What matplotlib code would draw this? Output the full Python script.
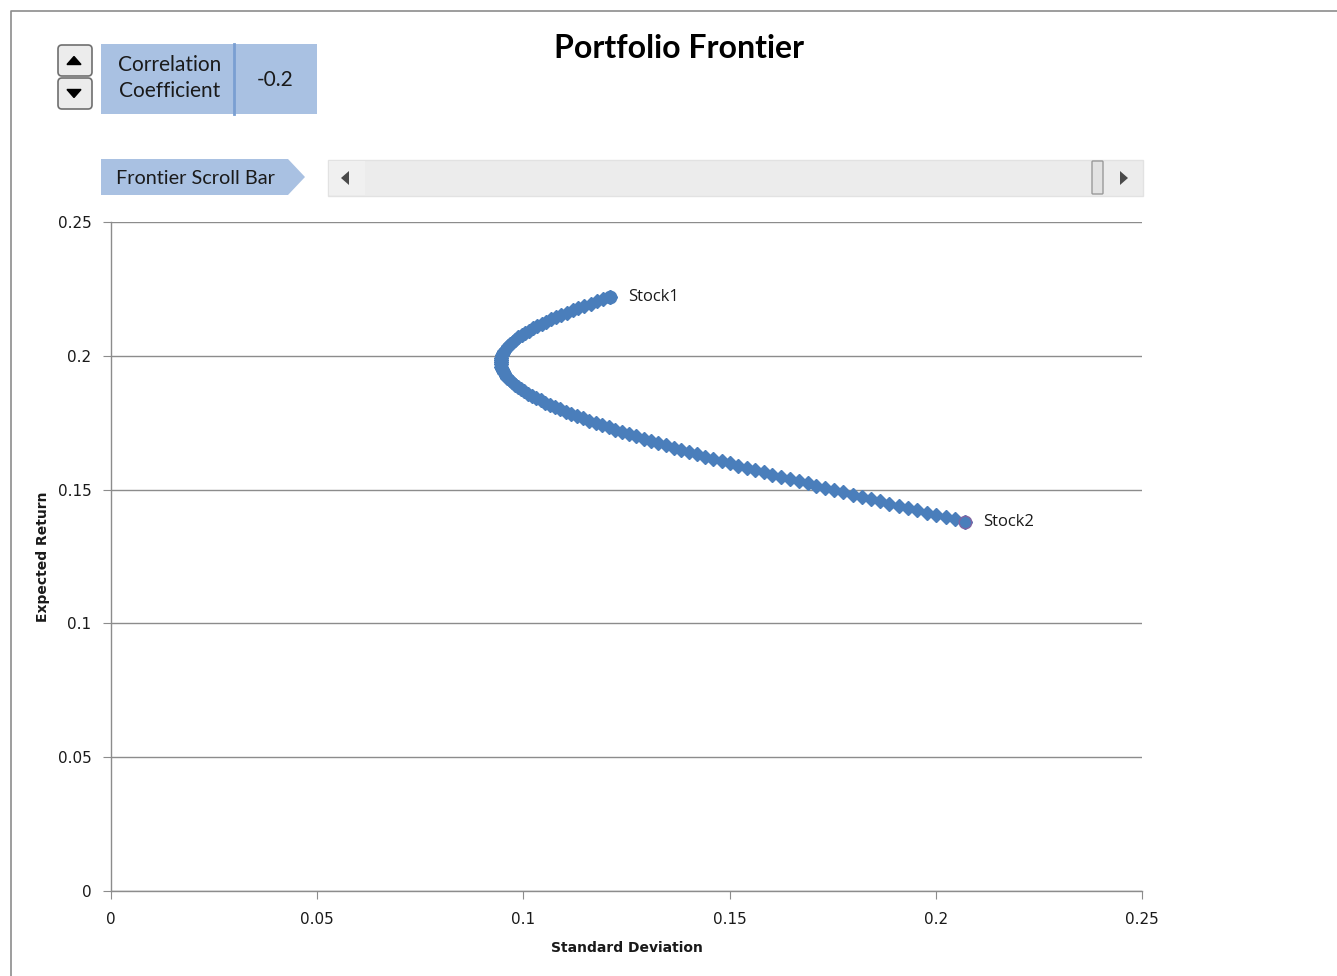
import numpy as np
import matplotlib
matplotlib.use("Agg")
import matplotlib.pyplot as plt
from matplotlib.patches import Rectangle, Polygon, FancyBboxPatch

# frontier points (Stock2 end -> Stock1 end)
std_dev = [0.20700, 0.20469, 0.20239, 0.20010, 0.19781, 0.19553, 0.19326, 0.19100, 0.18874, 0.18650,
           0.18426, 0.18204, 0.17982, 0.17761, 0.17542, 0.17324, 0.17106, 0.16890, 0.16676, 0.16462,
           0.16250, 0.16039, 0.15830, 0.15622, 0.15416, 0.15212, 0.15009, 0.14808, 0.14609, 0.14411,
           0.14216, 0.14023, 0.13832, 0.13643, 0.13457, 0.13273, 0.13092, 0.12913, 0.12738, 0.12565,
           0.12395, 0.12228, 0.12065, 0.11905, 0.11749, 0.11596, 0.11447, 0.11302, 0.11162, 0.11026,
           0.10894, 0.10767, 0.10645, 0.10527, 0.10415, 0.10308, 0.10207, 0.10111, 0.10022, 0.09938,
           0.09860, 0.09789, 0.09724, 0.09665, 0.09614, 0.09569, 0.09530, 0.09499, 0.09475, 0.09458,
           0.09448, 0.09445, 0.09450, 0.09461, 0.09480, 0.09505, 0.09538, 0.09578, 0.09624, 0.09677,
           0.09737, 0.09804, 0.09876, 0.09955, 0.10040, 0.10132, 0.10229, 0.10331, 0.10439, 0.10552,
           0.10670, 0.10794, 0.10922, 0.11055, 0.11192, 0.11333, 0.11479, 0.11629, 0.11782, 0.11940,
           0.12100]
exp_return = [0.13800, 0.13884, 0.13968, 0.14052, 0.14136, 0.14220, 0.14304, 0.14388, 0.14472, 0.14556,
              0.14640, 0.14724, 0.14808, 0.14892, 0.14976, 0.15060, 0.15144, 0.15228, 0.15312, 0.15396,
              0.15480, 0.15564, 0.15648, 0.15732, 0.15816, 0.15900, 0.15984, 0.16068, 0.16152, 0.16236,
              0.16320, 0.16404, 0.16488, 0.16572, 0.16656, 0.16740, 0.16824, 0.16908, 0.16992, 0.17076,
              0.17160, 0.17244, 0.17328, 0.17412, 0.17496, 0.17580, 0.17664, 0.17748, 0.17832, 0.17916,
              0.18000, 0.18084, 0.18168, 0.18252, 0.18336, 0.18420, 0.18504, 0.18588, 0.18672, 0.18756,
              0.18840, 0.18924, 0.19008, 0.19092, 0.19176, 0.19260, 0.19344, 0.19428, 0.19512, 0.19596,
              0.19680, 0.19764, 0.19848, 0.19932, 0.20016, 0.20100, 0.20184, 0.20268, 0.20352, 0.20436,
              0.20520, 0.20604, 0.20688, 0.20772, 0.20856, 0.20940, 0.21024, 0.21108, 0.21192, 0.21276,
              0.21360, 0.21444, 0.21528, 0.21612, 0.21696, 0.21780, 0.21864, 0.21948, 0.22032, 0.22116,
              0.22200]

stock_names = ["Stock1", "Stock2"]
stock_sd = [0.121, 0.207]
stock_ret = [0.222, 0.138]

x_ticks = [0, 0.05, 0.1, 0.15, 0.2, 0.25]
x_tick_labels = ["0", "0.05", "0.1", "0.15", "0.2", "0.25"]
y_ticks = [0, 0.05, 0.1, 0.15, 0.2, 0.25]
y_tick_labels = ["0", "0.05", "0.1", "0.15", "0.2", "0.25"]

corr_value = "-0.2"

W, H = 1337, 976
fig = plt.figure(figsize=(W / 100, H / 100), dpi=100)

# overlay in pixel coords for the sheet controls
ui = fig.add_axes([0, 0, 1, 1])
ui.set_xlim(0, W)
ui.set_ylim(H, 0)
ui.axis("off")

ui.plot([11, 11, W], [H, 11, 11], color="#8c8c8c", lw=1.2)

# spinner
for y0, up in [(45, True), (78, False)]:
    ui.add_patch(FancyBboxPatch((58, y0), 34, 31, boxstyle="round,pad=0,rounding_size=4",
                                fc="#ececec", ec="#6f6f6f", lw=1.2))
    cy = y0 + 15.5
    if up:
        tri = [(67, cy + 4), (81, cy + 4), (74, cy - 4)]
    else:
        tri = [(67, cy - 4), (81, cy - 4), (74, cy + 4)]
    ui.add_patch(Polygon(tri, closed=True, fc="black", ec="black"))

ui.add_patch(Rectangle((101, 44), 216, 70, fc="#a9c1e2", ec="none"))
ui.plot([234, 234], [44, 114], color="#7a9fd2", lw=2)
ui.text(170, 78, "Correlation\nCoefficient", ha="center", va="center",
        fontsize=15, family="Lato", color="#1a1a1a", linespacing=1.35)
ui.text(275, 80, corr_value, ha="center", va="center", fontsize=15, family="Lato", color="#1a1a1a")

ui.add_patch(Polygon([(101, 159), (288, 159), (305, 177), (288, 195), (101, 195)],
                     closed=True, fc="#a9c1e2", ec="none"))
ui.text(195, 178, "Frontier Scroll Bar", ha="center", va="center",
        fontsize=14.3, family="Lato", color="#1a1a1a")

# scroll bar
ui.add_patch(Rectangle((328, 160), 815, 36, fc="#ececec", ec="#e2e2e2", lw=1))
ui.add_patch(Rectangle((329, 161), 36, 34, fc="#f0f0f0", ec="none"))
ui.add_patch(Polygon([(341, 178), (349, 171), (349, 185)], closed=True, fc="#4a4a4a", ec="none"))
ui.add_patch(Polygon([(1128, 178), (1120, 171), (1120, 185)], closed=True, fc="#4a4a4a", ec="none"))
ui.add_patch(FancyBboxPatch((1092, 161), 11, 33, boxstyle="round,pad=0,rounding_size=1",
                            fc="#e2e2e2", ec="#9a9a9a", lw=1))

ui.text(679, 48, "Portfolio Frontier", ha="center", va="center",
        fontsize=23, fontweight="bold", family="Lato", color="black")

# chart
ax = fig.add_axes([111 / W, 1 - 891 / H, 1031 / W, 669 / H])
ax.set_facecolor("none")
ax.plot(std_dev, exp_return, color="#4a7ebb", lw=1.5, marker="D", ms=7,
        markeredgecolor="#4a7ebb", zorder=3)
ax.plot(stock_sd[0], stock_ret[0], "o", ms=9, color="#4a7ebb", zorder=4)
ax.plot(stock_sd[1], stock_ret[1], "o", ms=9, color="#4a7ebb", markeredgecolor="#8064a2",
        markeredgewidth=1, zorder=4)
for name, sx, sy in zip(stock_names, stock_sd, stock_ret):
    ax.annotate(name, (sx, sy), xytext=(13, 0), textcoords="offset points",
                ha="left", va="center", fontsize=12, family="Open Sans", color="#1a1a1a")

ax.set_xlim(0, 0.25)
ax.set_ylim(0, 0.25)
ax.set_xticks(x_ticks)
ax.set_xticklabels(x_tick_labels)
ax.set_yticks(y_ticks)
ax.set_yticklabels(y_tick_labels)
ax.yaxis.grid(True, color="#8c8c8c", lw=1)
ax.set_axisbelow(True)
for s in ["top", "right"]:
    ax.spines[s].set_visible(False)
for s in ["left", "bottom"]:
    ax.spines[s].set_color("#8c8c8c")
    ax.spines[s].set_linewidth(1)
ax.tick_params(axis="x", length=6, color="#8c8c8c", pad=9, labelsize=11, labelcolor="#1a1a1a")
ax.tick_params(axis="y", length=6, color="#8c8c8c", pad=8, labelsize=11, labelcolor="#1a1a1a")
ax.set_xlabel("Standard Deviation", fontsize=10, fontweight="bold", labelpad=10, color="#1a1a1a")
ax.set_ylabel("Expected Return", fontsize=10, fontweight="bold", labelpad=5.5, color="#1a1a1a")

fig.savefig("out.png", dpi=100)
